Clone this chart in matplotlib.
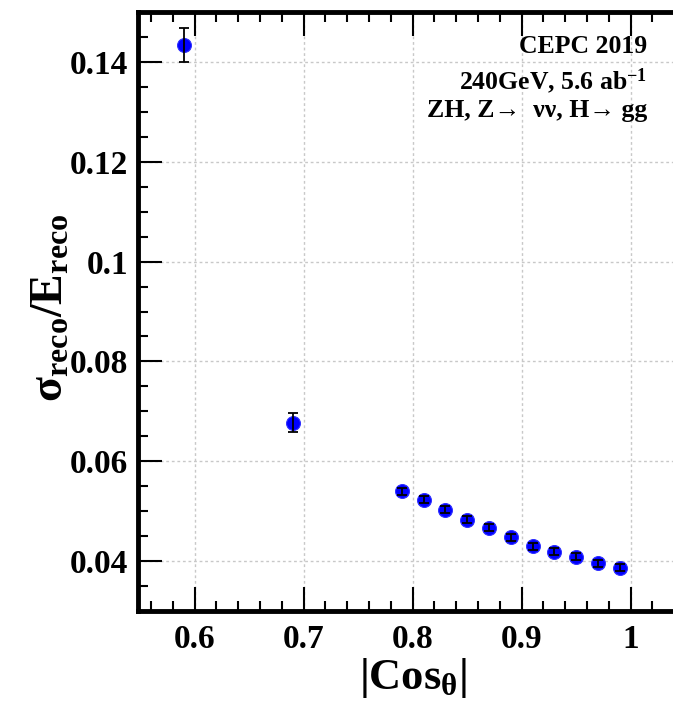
import matplotlib
matplotlib.use("Agg")
import matplotlib.pyplot as plt
from matplotlib.ticker import MultipleLocator

plt.rcParams['font.family'] = ['Liberation Serif', 'DejaVu Serif']
plt.rcParams['font.weight'] = 'bold'
plt.rcParams['mathtext.fontset'] = 'custom'
plt.rcParams['mathtext.rm'] = 'Liberation Serif:bold'
plt.rcParams['mathtext.bf'] = 'Liberation Serif:bold'
plt.rcParams['mathtext.it'] = 'Liberation Serif:bold'
plt.rcParams['savefig.bbox'] = None

# data
cos_theta = [0.59, 0.69, 0.79, 0.81, 0.83, 0.85, 0.87, 0.89, 0.91, 0.93, 0.95, 0.97, 0.99]
resolution = [0.1433, 0.0677, 0.0540, 0.0523, 0.0503, 0.0483, 0.0467, 0.0448,
              0.0430, 0.0419, 0.0409, 0.0396, 0.0387]
errors = [0.0034, 0.0019, 0.0007, 0.0007, 0.0007, 0.0007, 0.0007, 0.0007,
          0.0007, 0.0007, 0.0007, 0.0007, 0.0007]
x_ticks = [0.6, 0.7, 0.8, 0.9, 1.0]
x_ticklabels = ['0.6', '0.7', '0.8', '0.9', '1']
y_ticks = [0.04, 0.06, 0.08, 0.1, 0.12, 0.14]
y_ticklabels = ['0.04', '0.06', '0.08', '0.1', '0.12', '0.14']

fig = plt.figure(figsize=(6.73, 7.04), dpi=100)
# plot frame reaches the right edge of the image (original is cropped there)
right_px = 673
ax = fig.add_axes([138/673, (704-611)/704, (right_px-138)/673, (611-12)/704])

ax.plot(cos_theta, resolution, 'o', color='#0000ff', markersize=10,
        markeredgecolor='#3030ff', markeredgewidth=0.8, zorder=3)
ax.errorbar(cos_theta, resolution, yerr=errors, fmt='none', ecolor='black',
            elinewidth=1.3, capsize=3.5, capthick=1.3, zorder=4)

ax.set_xlim(0.548, 0.548 + (right_px-138)/1090)
ax.set_ylim(0.03, 0.15)
ax.set_xticks(x_ticks)
ax.set_xticklabels(x_ticklabels)
ax.set_yticks(y_ticks)
ax.set_yticklabels(y_ticklabels)
ax.xaxis.set_minor_locator(MultipleLocator(0.02))
ax.yaxis.set_minor_locator(MultipleLocator(0.005))

ax.tick_params(which='both', direction='in', top=True, right=False, width=1.5, color='black')
ax.tick_params(which='major', length=17, labelsize=24)
ax.tick_params(which='minor', length=7)
ax.tick_params(axis='x', which='major', pad=9)
ax.tick_params(axis='y', which='major', pad=7)
for lab in ax.get_xticklabels() + ax.get_yticklabels():
    lab.set_fontweight('bold')

for s in ax.spines.values():
    s.set_linewidth(3.5)
    s.set_color('black')
ax.spines['right'].set_visible(False)

ax.grid(True, which='major', linestyle=(0, (2, 2)), color='#c8c8c8', linewidth=1.0)
ax.set_axisbelow(True)

fig.text(52/673, 1-308/704, r'$\mathrm{σ_{reco}/E_{reco}}$', rotation=90,
         ha='center', va='center', fontsize=33)
fig.text(413/673, 1-678/704, r'$\mathrm{|Cos_{θ}|}$', ha='center', va='center', fontsize=32)

fig.text(647/673, 1-53/704, 'CEPC 2019', ha='right', va='baseline', fontsize=18.5, fontweight='bold')
fig.text(647/673, 1-89/704, r'240GeV, 5.6 ab$^{\mathrm{-1}}$', ha='right', va='baseline',
         fontsize=18.5, fontweight='bold')
fig.text(647/673, 1-117/704, 'ZH, Z→  νν, H→ gg', ha='right', va='baseline',
         fontsize=18.5, fontweight='bold')

fig.savefig('out.png', dpi=100)
